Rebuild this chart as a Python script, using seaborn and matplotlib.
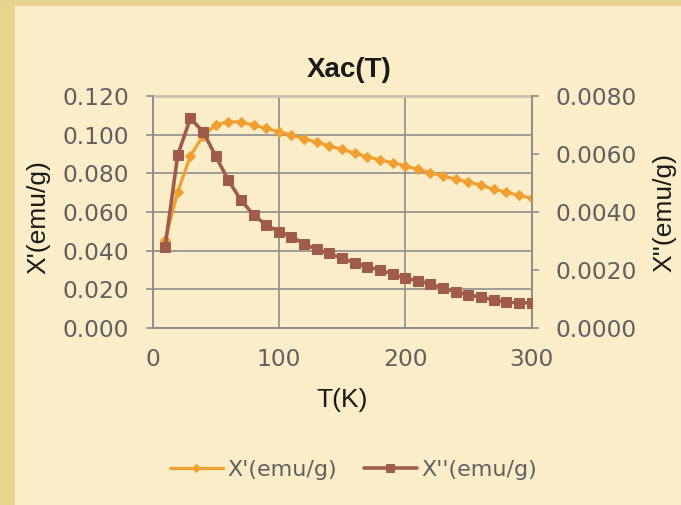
import numpy as np
import pandas as pd
import matplotlib
matplotlib.use("Agg")
import matplotlib.pyplot as plt
import seaborn as sns
from matplotlib.patches import Rectangle
from matplotlib.ticker import MultipleLocator

# ---- data ----
temperature = [10, 20, 30, 40, 50, 60, 70, 80, 90, 100,
               110, 120, 130, 140, 150, 160, 170, 180, 190, 200,
               210, 220, 230, 240, 250, 260, 270, 280, 290, 300]
chi_real = [0.0455, 0.0705, 0.0890, 0.0995, 0.1050, 0.1068, 0.1065, 0.1050, 0.1032, 0.1015,
            0.0998, 0.0980, 0.0960, 0.0942, 0.0924, 0.0904, 0.0886, 0.0869, 0.0855, 0.0838,
            0.0821, 0.0803, 0.0786, 0.0769, 0.0755, 0.0739, 0.0718, 0.0702, 0.0686, 0.0671]
chi_imag = [0.00280, 0.00597, 0.00723, 0.00677, 0.00593, 0.00510, 0.00441, 0.00390, 0.00355, 0.00332,
            0.00315, 0.00290, 0.00271, 0.00257, 0.00240, 0.00225, 0.00211, 0.00200, 0.00186, 0.00171,
            0.00163, 0.00152, 0.00137, 0.00125, 0.00114, 0.00106, 0.00097, 0.00089, 0.00087, 0.00087]
left_ticks = [0.000, 0.020, 0.040, 0.060, 0.080, 0.100, 0.120]
right_ticks = [0.0000, 0.0020, 0.0040, 0.0060, 0.0080]
x_ticks = [0, 100, 200, 300]
title = "Xac(T)"
xlabel = "T(K)"
ylabel_left = "X'(emu/g)"
ylabel_right = "X''(emu/g)"

df = pd.DataFrame({"T": temperature, "real": chi_real, "imag": chi_imag})

sns.set_style("white")
bg = "#FCEDC9"
orange = "#F0A030"
brown = "#A05C4A"
grid_c = "#8E8E8E"
tick_c = "#606060"
tsize = 16.8

fig = plt.figure(figsize=(6.81, 5.05), dpi=100, facecolor=bg)
fig.patches.append(Rectangle((0, 0), 15 / 681, 1, transform=fig.transFigure,
                             facecolor="#E9D38F", edgecolor="none", zorder=0))
fig.patches.append(Rectangle((0, 1 - 6 / 505), 1, 6 / 505, transform=fig.transFigure,
                             facecolor="#E6D38F", edgecolor="none", zorder=0))

ax = fig.add_axes([152.5 / 681, 1 - 328 / 505, 379 / 681, 232 / 505])
ax.set_facecolor(bg)
ax2 = ax.twinx()

sns.lineplot(data=df, x="T", y="real", ax=ax, color=orange, linewidth=2.3,
             marker="D", markersize=5, markeredgecolor=orange, legend=False, zorder=3)
sns.lineplot(data=df, x="T", y="imag", ax=ax2, color=brown, linewidth=2.6,
             marker="s", markersize=6.5, markeredgecolor=brown, legend=False, zorder=3)

ax.set_xlim(0, 300)
ax.set_ylim(0, 0.12)
ax2.set_ylim(0, 0.008)
ax.set_xticks(x_ticks)
ax.xaxis.set_minor_locator(MultipleLocator(20))
ax.set_yticks(left_ticks)
ax.set_yticklabels([f"{v:.3f}" for v in left_ticks])
ax2.set_yticks(right_ticks)
ax2.set_yticklabels([f"{v:.4f}" for v in right_ticks])

ax.grid(True, which="major", color=grid_c, linewidth=1.2)
ax.set_axisbelow(True)
for s in ["left", "bottom", "right"]:
    ax.spines[s].set_color(grid_c)
    ax.spines[s].set_linewidth(1.2)
    ax2.spines[s].set_color(grid_c)
    ax2.spines[s].set_linewidth(1.2)
ax.spines["top"].set_color("#C9C2B0")
ax.spines["top"].set_linewidth(2.0)
ax2.spines["top"].set_visible(False)

ax.tick_params(axis="y", which="major", direction="out", length=5, width=1.2,
               color=grid_c, pad=12, labelcolor=tick_c, labelsize=tsize)
ax.tick_params(axis="x", which="major", direction="out", length=5.5, width=1.2,
               color=grid_c, pad=9, labelcolor=tick_c, labelsize=tsize)
ax.tick_params(axis="x", which="minor", direction="out", length=5, width=1.0, color=grid_c)
ax2.tick_params(axis="y", which="major", direction="out", length=5, width=1.2,
                color=grid_c, pad=12, labelcolor=tick_c, labelsize=tsize)
for lab in ax.get_xticklabels() + ax.get_yticklabels() + ax2.get_yticklabels():
    lab.set_fontfamily("DejaVu Sans")

lab_font = dict(family="Liberation Sans", size=19, color="#1A1A1A")
ax.set_xlabel(xlabel, **lab_font)
ax.xaxis.set_label_coords(0.5, (328 - 400) / 232)
ax.xaxis.label.set_va("center")
ax.set_ylabel(ylabel_left, **lab_font)
ax.yaxis.set_label_coords((38 - 152.5) / 379, 0.48)
ax.yaxis.label.set_va("center")
ax2.set_ylabel(ylabel_right, **lab_font)
ax2.yaxis.set_label_coords((664 - 152.5) / 379, 0.5)
ax2.yaxis.label.set_va("center")

ax.set_title(title, fontfamily="Liberation Sans", fontweight="bold", fontsize=20,
             color="#1A1A1A", pad=14)
ax.title.set_x((349.5 - 152.5) / 379)

h1 = ax.get_lines()[0]
h2 = ax2.get_lines()[0]
fig.legend([h1, h2], [ylabel_left, ylabel_right], loc="center",
           bbox_to_anchor=(353.5 / 681, 1 - 470 / 505), ncol=2, frameon=False,
           handlelength=2.4, columnspacing=1.2, handletextpad=0.2, markerscale=0.8,
           prop=dict(family="DejaVu Sans", size=16), labelcolor=tick_c)

fig.savefig("out.png", dpi=100, facecolor=bg)
